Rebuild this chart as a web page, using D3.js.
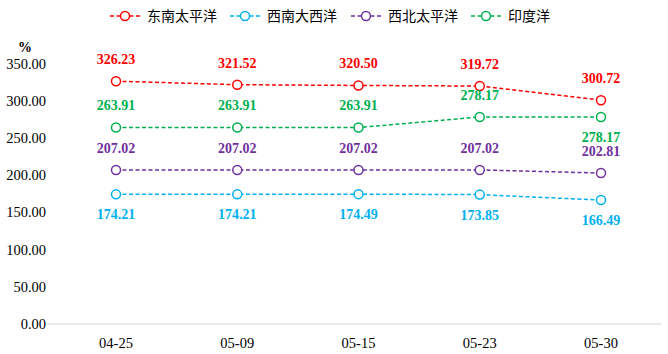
<!DOCTYPE html>
<html><head><meta charset="utf-8">
<script src="https://cdn.jsdelivr.net/npm/d3@7"></script>
<style>body{margin:0;background:#fff}svg{display:block}</style>
</head><body><svg id="c" width="668" height="354"></svg>
<script>
const categories = ["04-25","05-09","05-15","05-23","05-30"];
const seriesNames = ["东南太平洋","西南大西洋","西北太平洋","印度洋"];
const seriesColors = ["#ff0000","#00b0f0","#7030a0","#00b050"];
const sePacific = [326.23,321.52,320.50,319.72,300.72];
const swAtlantic = [174.21,174.21,174.49,173.85,166.49];
const nwPacific = [207.02,207.02,207.02,207.02,202.81];
const indian = [263.91,263.91,263.91,278.17,278.17];
const yTicks = [0,50,100,150,200,250,300,350];
// label placement: -1 above, 1 below
const labelPos = [
  [-1,-1,-1,-1,-1],
  [1,1,1,1,1],
  [-1,-1,-1,-1,-1],
  [-1,-1,-1,-1,1]
];
const series = [sePacific, swAtlantic, nwPacific, indian];

const svg = d3.select("#c");
const x = d3.scalePoint().domain(categories).range([116,601]);
const y = d3.scaleLinear().domain([0,350]).range([324,63.5]);

svg.append("line").attr("x1",44).attr("x2",662).attr("y1",y(0)).attr("y2",y(0))
  .attr("stroke","#d9d9d9").attr("stroke-width",1);

svg.append("g").selectAll("text").data(yTicks).join("text")
  .attr("x",46).attr("y",d=>y(d)).attr("dy","0.35em").attr("text-anchor","end")
  .attr("font-family","Liberation Serif").attr("font-size",14.5).attr("fill","#000")
  .text(d=>d.toFixed(2));
svg.append("text").attr("x",25).attr("y",52).attr("text-anchor","middle")
  .attr("font-family","Liberation Serif").attr("font-size",14).attr("font-weight","bold").text("%");

svg.append("g").selectAll("text").data(categories).join("text")
  .attr("x",d=>x(d)).attr("y",343).attr("dy","0.35em").attr("text-anchor","middle")
  .attr("font-family","Liberation Serif").attr("font-size",14.5).attr("fill","#000")
  .text(d=>d);

const line = d3.line().x((d,i)=>x(categories[i])).y(d=>y(d));
series.forEach((s,si)=>{
  const g = svg.append("g");
  g.append("path").attr("d",line(s)).attr("fill","none").attr("stroke",seriesColors[si])
    .attr("stroke-width",1.5).attr("stroke-dasharray","4,2.5");
  g.selectAll("circle").data(s).join("circle")
    .attr("cx",(d,i)=>x(categories[i])).attr("cy",d=>y(d)).attr("r",4.5)
    .attr("fill","#fff").attr("stroke",seriesColors[si]).attr("stroke-width",1.5);
  g.selectAll("text").data(s).join("text")
    .attr("x",(d,i)=>x(categories[i]))
    .attr("y",(d,i)=>y(d) + (labelPos[si][i]<0 ? -22 : 20))
    .attr("dy","0.35em").attr("text-anchor","middle")
    .attr("font-family","Liberation Serif").attr("font-weight","bold").attr("font-size",14)
    .attr("fill",seriesColors[si]).text(d=>d.toFixed(2));
});

const legX = [110,230,351,471];
seriesNames.forEach((n,i)=>{
  const g = svg.append("g").attr("transform",`translate(${legX[i]},16)`);
  g.append("line").attr("x1",0).attr("x2",30).attr("y1",0).attr("y2",0)
    .attr("stroke",seriesColors[i]).attr("stroke-width",1.5).attr("stroke-dasharray","4,2.5");
  g.append("circle").attr("cx",15).attr("cy",0).attr("r",4.5).attr("fill","#fff")
    .attr("stroke",seriesColors[i]).attr("stroke-width",1.5);
  g.append("text").attr("x",37).attr("y",0).attr("dy","0.36em")
    .attr("font-family","Noto Sans CJK SC").attr("font-size",14).attr("fill","#000").text(n);
});
</script></body></html>
